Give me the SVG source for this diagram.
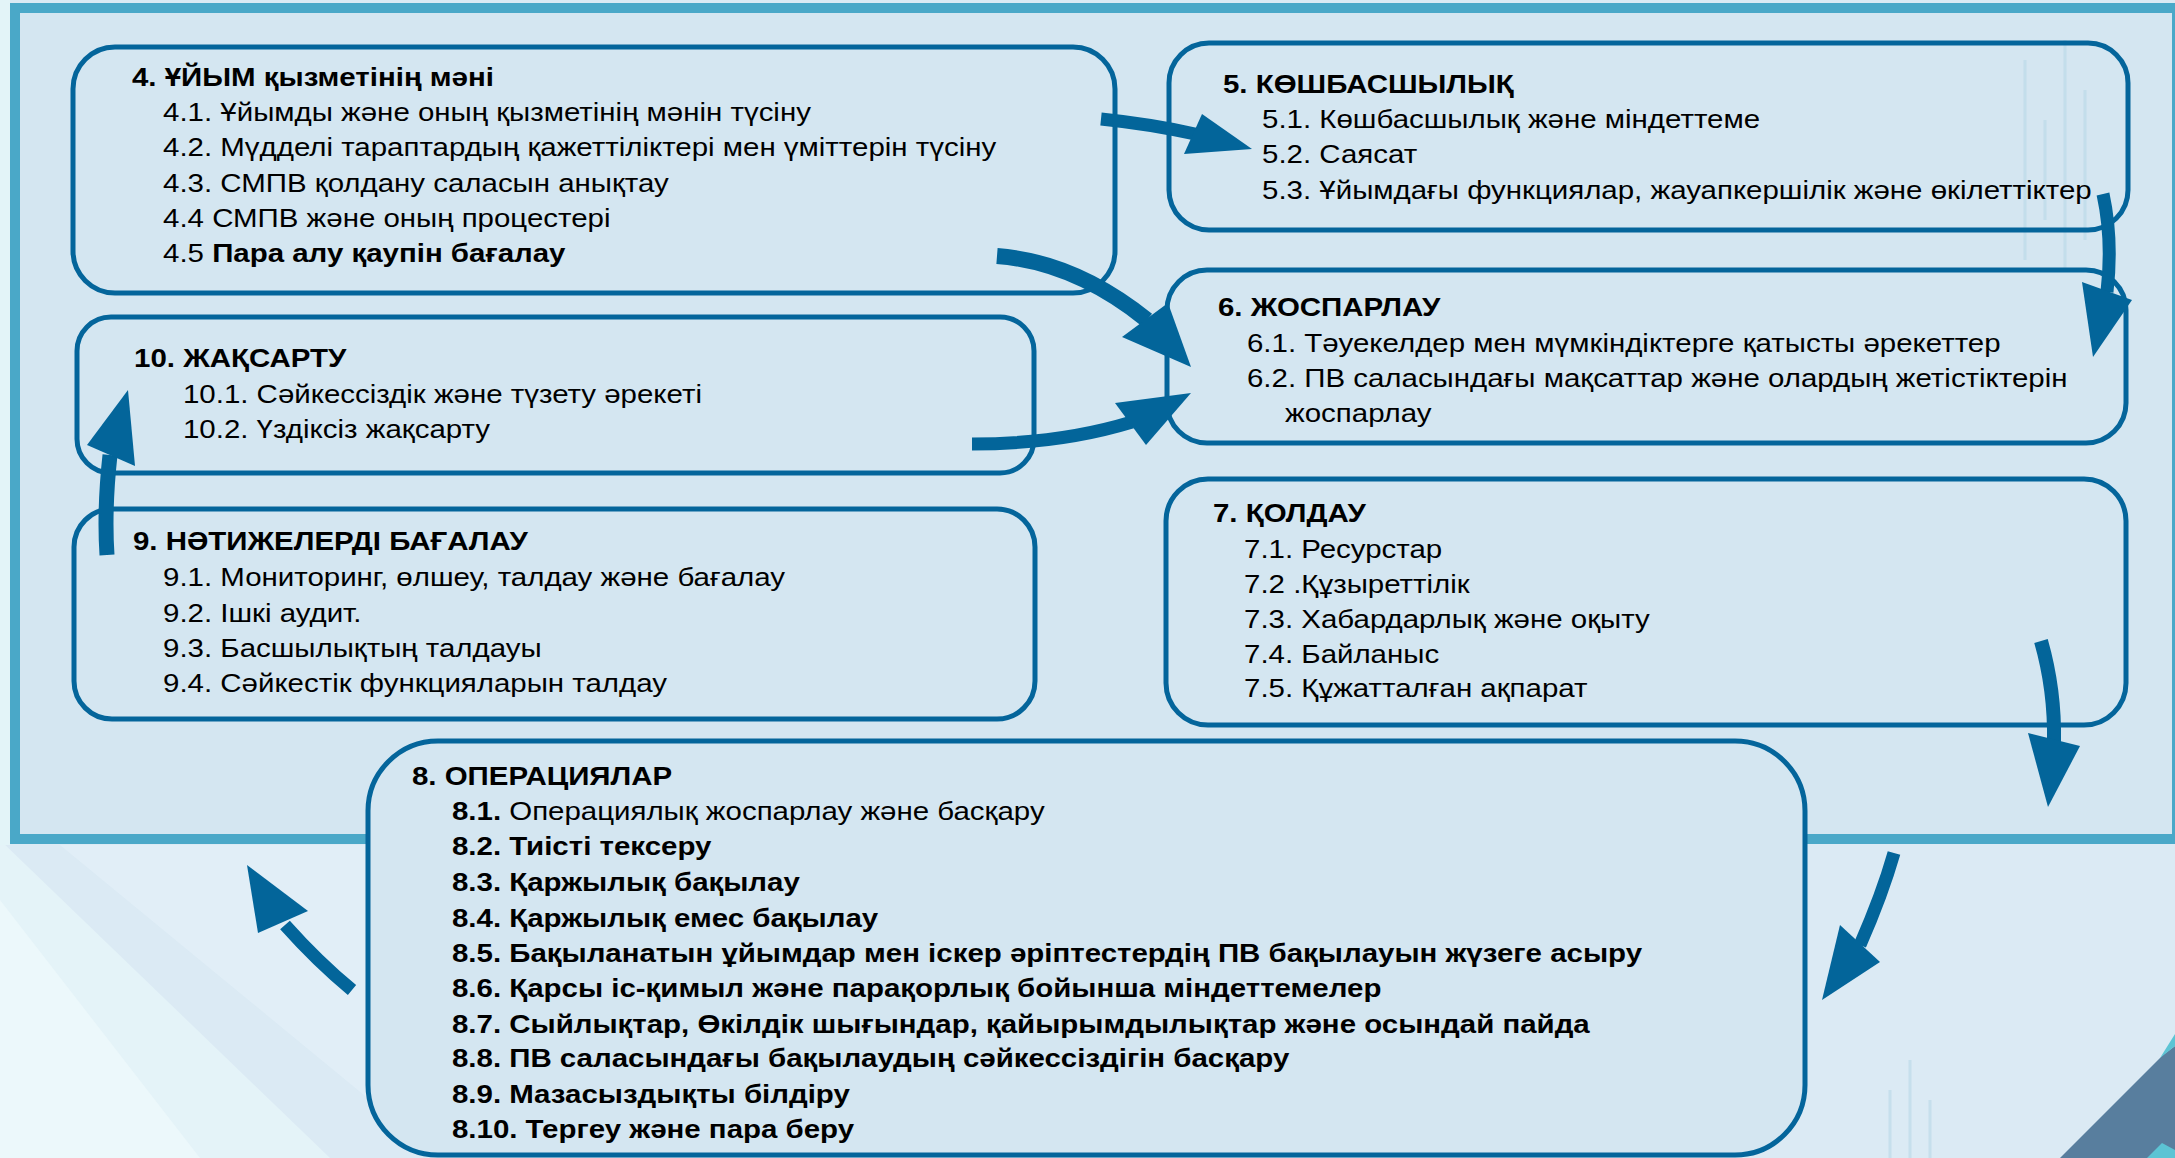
<svg xmlns="http://www.w3.org/2000/svg" width="2175" height="1158" viewBox="0 0 2175 1158">
<style>
.box{fill:none;stroke:#04659b;stroke-width:5}
.t{font-family:"Liberation Sans",Arial,sans-serif;font-size:26px;fill:#000}
.b{font-weight:bold}
.shaft{fill:none;stroke:#03659a;stroke-linecap:butt}
.head{fill:#03659a}
.deco{stroke:#b9d9e8;stroke-width:3;opacity:0.6}
</style>
<!-- background -->
<rect x="0" y="0" width="2175" height="1158" fill="#dbeaf4"/>
<polygon points="0,840 0,1158 330,1158" fill="#e4f3f8"/>
<polygon points="0,900 200,1158 0,1158" fill="#ecf8fb"/>
<polygon points="60,845 370,845 370,1100" fill="#e2eff7" opacity="0.8"/>
<polygon points="0,0 10,0 10,845 0,845" fill="#e3f4f8"/>
<polygon points="2060,1158 2163,1055 2175,1046 2175,1158" fill="#587e9e"/>
<polygon points="2160,1058 2175,1034 2175,1046" fill="#5cc4d4"/>
<polygon points="2147,1158 2162,1143 2175,1150 2175,1158" fill="#5cc4d4"/>
<!-- frame -->
<rect x="15" y="8" width="2162" height="831" fill="#d4e6f1" stroke="#4aa8c8" stroke-width="10"/>
<g id="decor">
<line class="deco" x1="2025" y1="60" x2="2025" y2="260"/>
<line class="deco" x1="2045" y1="120" x2="2045" y2="220"/>
<line class="deco" x1="2065" y1="40" x2="2065" y2="270"/>
<line class="deco" x1="2085" y1="90" x2="2085" y2="240"/>
<line class="deco" x1="1890" y1="1090" x2="1890" y2="1158"/>
<line class="deco" x1="1910" y1="1060" x2="1910" y2="1158"/>
<line class="deco" x1="1930" y1="1100" x2="1930" y2="1158"/>
</g>
<!-- nodes -->
<g id="node4">
<rect class="box" x="73" y="47" width="1042" height="246" rx="42"/>
<g transform="scale(1.133,1)">
<text class="t b" x="116.5" y="86">4. ҰЙЫМ қызметінің мәні</text>
<text class="t" x="143.9" y="121">4.1. Ұйымды және оның қызметінің мәнін түсіну</text>
<text class="t" x="143.9" y="156">4.2. Мүдделі тараптардың қажеттіліктері мен үміттерін түсіну</text>
<text class="t" x="143.9" y="192">4.3. СМПВ қолдану саласын анықтау</text>
<text class="t" x="143.9" y="227">4.4 СМПВ және оның процестері</text>
<text class="t" x="143.9" y="262">4.5 <tspan class="b">Пара алу қаупін бағалау</tspan></text>
</g>
</g>
<g id="node5">
<rect class="box" x="1169" y="43" width="959" height="187" rx="40"/>
<g transform="scale(1.133,1)">
<text class="t b" x="1079.4" y="93">5. КӨШБАСШЫЛЫҚ</text>
<text class="t" x="1113.9" y="128">5.1. Көшбасшылық және міндеттеме</text>
<text class="t" x="1113.9" y="163">5.2. Саясат</text>
<text class="t" x="1113.9" y="199">5.3. Ұйымдағы функциялар, жауапкершілік және өкілеттіктер</text>
</g>
</g>
<g id="node6">
<rect class="box" x="1167" y="270" width="959" height="173" rx="40"/>
<g transform="scale(1.133,1)">
<text class="t b" x="1075" y="316">6. ЖОСПАРЛАУ</text>
<text class="t" x="1100.6" y="352">6.1. Тәуекелдер мен мүмкіндіктерге қатысты әрекеттер</text>
<text class="t" x="1100.6" y="387">6.2. ПВ саласындағы мақсаттар және олардың жетістіктерін</text>
<text class="t" x="1134.2" y="422">жоспарлау</text>
</g>
</g>
<g id="node10">
<rect class="box" x="77" y="317" width="957" height="156" rx="34"/>
<g transform="scale(1.133,1)">
<text class="t b" x="118.3" y="367">10. ЖАҚСАРТУ</text>
<text class="t" x="161.5" y="403">10.1. Сәйкессіздік және түзету әрекеті</text>
<text class="t" x="161.5" y="438">10.2. Үздіксіз жақсарту</text>
</g>
</g>
<g id="node9">
<rect class="box" x="74" y="509" width="961" height="210" rx="38"/>
<g transform="scale(1.133,1)">
<text class="t b" x="117.4" y="550">9. НӘТИЖЕЛЕРДІ БАҒАЛАУ</text>
<text class="t" x="143.9" y="586">9.1. Мониторинг, өлшеу, талдау және бағалау</text>
<text class="t" x="143.9" y="622">9.2. Ішкі аудит.</text>
<text class="t" x="143.9" y="657">9.3. Басшылықтың талдауы</text>
<text class="t" x="143.9" y="692">9.4. Сәйкестік функцияларын талдау</text>
</g>
</g>
<g id="node7">
<rect class="box" x="1166" y="479" width="960" height="246" rx="42"/>
<g transform="scale(1.133,1)">
<text class="t b" x="1070.6" y="522">7. ҚОЛДАУ</text>
<text class="t" x="1098" y="558">7.1. Ресурстар</text>
<text class="t" x="1098" y="593">7.2 .Құзыреттілік</text>
<text class="t" x="1098" y="628">7.3. Хабардарлық және оқыту</text>
<text class="t" x="1098" y="663">7.4. Байланыс</text>
<text class="t" x="1098" y="697">7.5. Құжатталған ақпарат</text>
</g>
</g>
<g id="node8">
<rect class="box" x="368" y="741" width="1437" height="414" rx="70" style="fill:#d4e6f1"/>
<g transform="scale(1.133,1)">
<text class="t b" x="363.6" y="785">8. ОПЕРАЦИЯЛАР</text>
<text class="t" x="398.9" y="820"><tspan class="b">8.1.</tspan> Операциялық жоспарлау және басқару</text>
<text class="t b" x="398.9" y="855">8.2. Тиісті тексеру</text>
<text class="t b" x="398.9" y="891">8.3. Қаржылық бақылау</text>
<text class="t b" x="398.9" y="927">8.4. Қаржылық емес бақылау</text>
<text class="t b" x="398.9" y="962">8.5. Бақыланатын ұйымдар мен іскер әріптестердің ПВ бақылауын жүзеге асыру</text>
<text class="t b" x="398.9" y="997">8.6. Қарсы іс-қимыл және парақорлық бойынша міндеттемелер</text>
<text class="t b" x="398.9" y="1033">8.7. Сыйлықтар, Өкілдік шығындар, қайырымдылықтар және осындай пайда</text>
<text class="t b" x="398.9" y="1067">8.8. ПВ саласындағы бақылаудың сәйкессіздігін басқару</text>
<text class="t b" x="398.9" y="1103">8.9. Мазасыздықты білдіру</text>
<text class="t b" x="398.9" y="1138">8.10. Тергеу және пара беру</text>
</g>
</g>
<!-- connectors -->
<g id="connectors">
<path class="shaft" stroke-width="13" d="M1101,119 Q1150,124 1195,134"/>
<polygon class="head" points="1202,114 1252,149 1184,154"/>
<path class="shaft" stroke-width="16" d="M997,256 Q1075,262 1147,320"/>
<polygon class="head" points="1168,303 1191,367 1122,337"/>
<path class="shaft" stroke-width="13" d="M972,444 Q1060,444 1132,422"/>
<polygon class="head" points="1115,403 1191,393 1146,445"/>
<path class="shaft" stroke-width="13" d="M2103,194 Q2113,240 2107,292"/>
<polygon class="head" points="2082,282 2093,357 2132,300"/>
<path class="shaft" stroke-width="14" d="M2041,641 Q2055,690 2054,742"/>
<polygon class="head" points="2028,733 2048,807 2080,746"/>
<path class="shaft" stroke-width="13" d="M1894,853 Q1882,895 1860,945"/>
<polygon class="head" points="1840,925 1822,1000 1880,962"/>
<path class="shaft" stroke-width="13" d="M352,990 Q318,962 285,925"/>
<polygon class="head" points="258,933 247,865 308,911"/>
<path class="shaft" stroke-width="15" d="M107,555 Q104,510 110,455"/>
<polygon class="head" points="87,445 128,390 135,466"/>
</g>
</svg>
